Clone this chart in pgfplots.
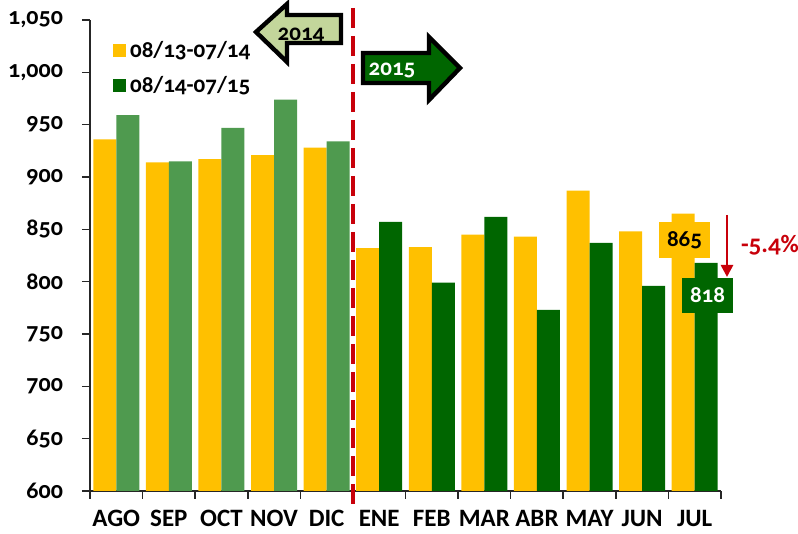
\documentclass[border=0pt]{standalone}
\usepackage{fontspec}
\setmainfont{Carlito}[Numbers=OldStyle]
\usepackage{pgfplots}
\pgfplotsset{compat=1.18}
\usetikzlibrary{arrows.meta}
\definecolor{cyel}{HTML}{FFC000}
\definecolor{cgreen}{HTML}{006600}
\definecolor{clgreen}{HTML}{4F9A4F}
\definecolor{cred}{HTML}{C8000A}
\definecolor{carrow}{HTML}{C3D69B}

\begin{document}
\begin{tikzpicture}[font=\bfseries\fontsize{11.5}{13}\selectfont]
\begin{axis}[
  scale only axis, width=315.5pt, height=235.5pt,
  xmin=-0.5, xmax=11.5, ymin=600, ymax=1050,
  axis lines=left, axis line style={-, line width=0.8pt, black!85},
  ytick={600,650,...,1050},
  xtick={-0.5,0.5,...,11.5},
  xticklabels={AGO,SEP,OCT,NOV,DIC,ENE,FEB,MAR,ABR,MAY,JUN,JUL},
  x tick label as interval,
  tick align=outside, tick style={black!85, line width=0.8pt},
  major tick length=4pt,
  xticklabel style={font=\bfseries\fontsize{12.5}{14}\selectfont, yshift=-2pt},
  yticklabel style={xshift=-6pt, font=\bfseries\fontsize{12}{14}\selectfont},
  /pgf/number format/1000 sep={,},
  /pgf/number format/assume math mode=true,
  legend style={at={(0.036,0.965)}, anchor=north west, draw=none, fill=none,
    row sep=4pt, inner sep=0pt,
    /tikz/every even column/.append style={column sep=3pt}},
  legend cell align=left,
  legend image code/.code={\fill[#1] (0pt,-3.3pt) rectangle (6.5pt,3.3pt);},
]
\addplot[ybar, bar width=11.5pt, bar shift=-5.75pt, fill=cyel, draw=none] coordinates {
  (0,936) (1,914) (2,917) (3,921) (4,928) (5,832) (6,833) (7,845) (8,843) (9,887) (10,848) (11,865)};
\addplot[ybar, bar width=11.5pt, bar shift=5.75pt, fill=cgreen, draw=none] coordinates {
  (5,857) (6,799) (7,862) (8,773) (9,837) (10,796) (11,818)};
\addplot[ybar, bar width=11.5pt, bar shift=5.75pt, fill=clgreen, draw=none, forget plot] coordinates {
  (0,959) (1,915) (2,947) (3,974) (4,934)};
\legend{08/13-07/14, 08/14-07/15}
\coordinate (img) at (rel axis cs:-0.142631,1.042463);
\end{axis}
\begin{scope}[shift={(img)}, x=0.5pt, y=-0.5pt]
  % year divider
  \draw[cred, line width=1.6pt, dash pattern=on 10pt off 4pt] (352.9,8) -- (352.9,508);
  % 2014 arrow
  \draw[fill=carrow, line width=2.2pt, line join=miter]
    (256,32) -- (287,4) -- (287,15) -- (341,15) -- (341,43) -- (287,43) -- (287,62) -- cycle;
  \node at (301,35) {2014};
  % 2015 arrow
  \draw[fill=cgreen, line width=2.2pt, line join=miter]
    (363,53) -- (429,53) -- (429,37) -- (460,68) -- (429,100) -- (429,83) -- (363,83) -- cycle;
  \node[white] at (392,70) {2015};
  % value boxes
  \fill[cyel] (659,222) rectangle (710,258);
  \node at (684.5,240) {865};
  \fill[cgreen] (682,278) rectangle (733,313);
  \node[white] at (707.5,295) {818};
  % change arrow
  \draw[cred, line width=1.3pt, -{Triangle[length=6pt, width=6pt]}] (727,215) -- (727,277);
  \node[cred, anchor=west, font=\bfseries\fontsize{12.5}{14}\selectfont] at (734,245) {-5.4\%};
\end{scope}
\pgfresetboundingbox
\useasboundingbox (img) rectangle ++(399pt,-267pt);
\end{tikzpicture}
\end{document}
